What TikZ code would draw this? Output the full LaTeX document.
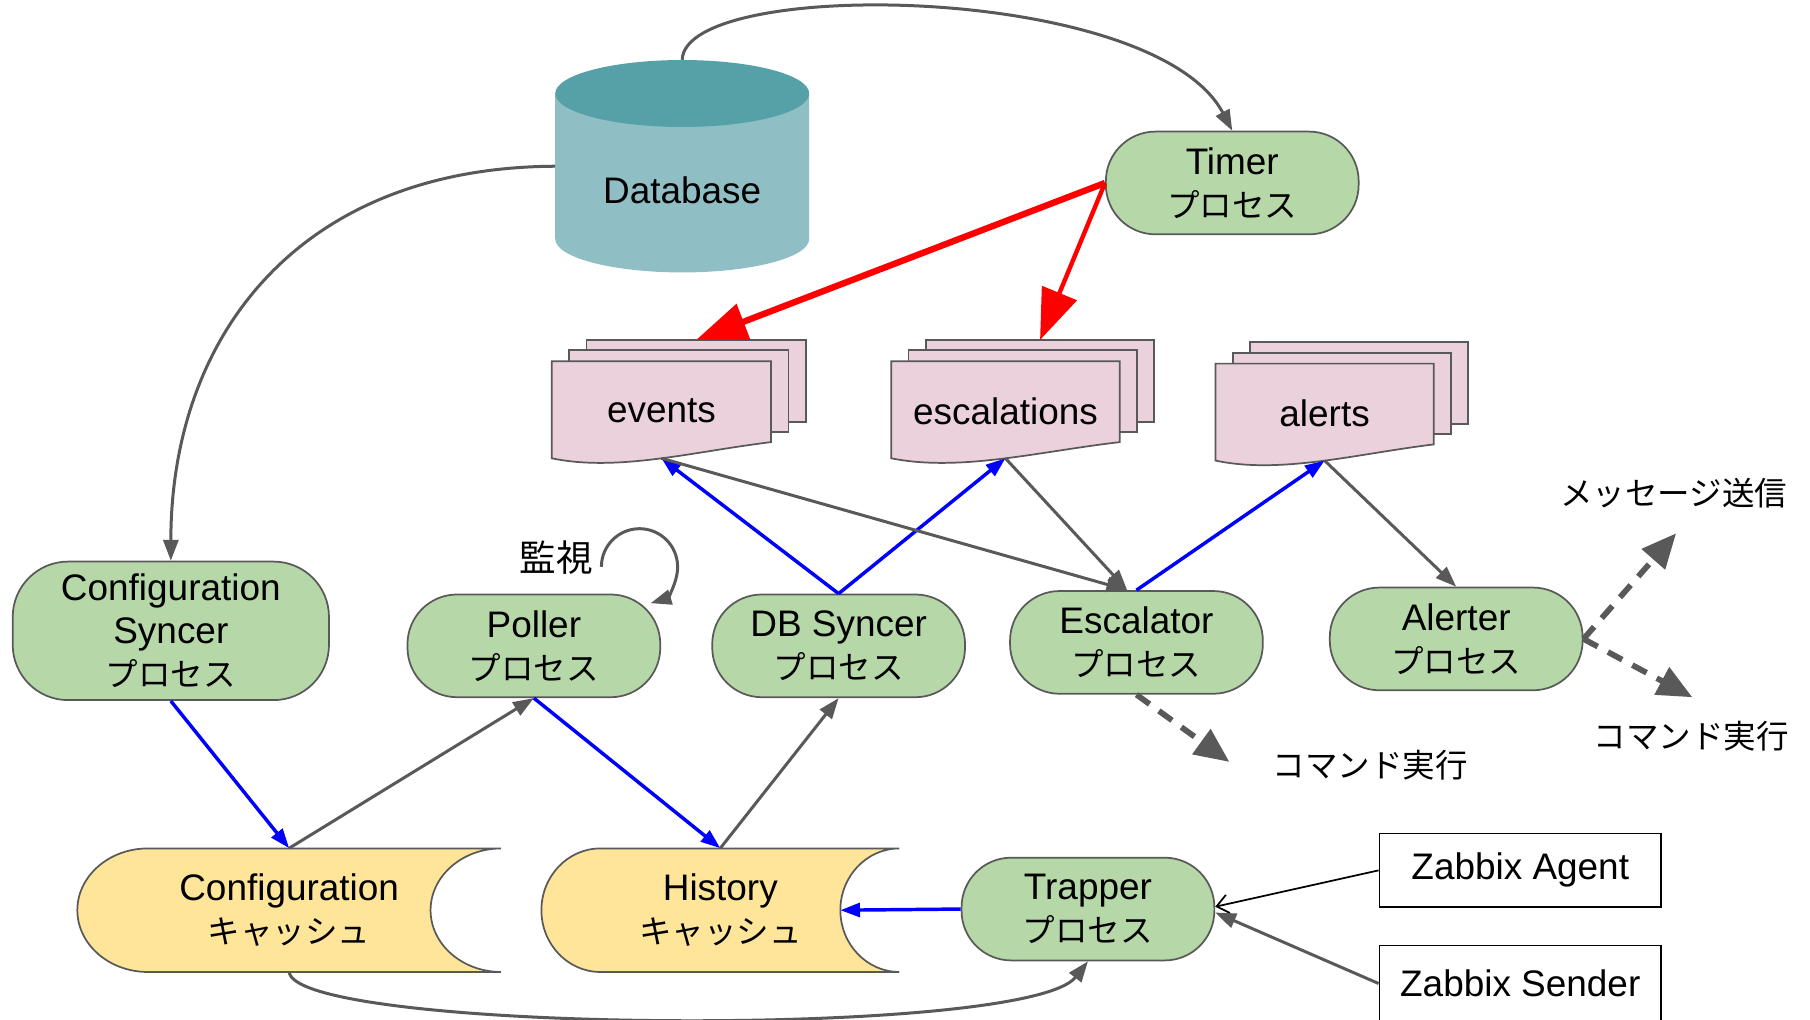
\documentclass[tikz,border=0pt]{standalone}
\usepackage{fontspec}
\setmainfont{Liberation Sans}
\newfontfamily\jp[Scale=0.88]{Noto Sans CJK JP}
\usetikzlibrary{arrows.meta}
\definecolor{linegray}{HTML}{595959}
\definecolor{procgreen}{HTML}{B6D7A8}
\definecolor{docpink}{HTML}{EAD1DC}
\definecolor{cacheyellow}{HTML}{FFE599}
\definecolor{dbbody}{HTML}{8FBEC4}
\definecolor{dbtop}{HTML}{56A0A8}
\tikzset{>={Triangle[length=18pt,width=13pt]}}
\tikzset{
  every node/.style={font=\fontsize{32}{37.5}\selectfont},
  proc/.style={draw=linegray, line width=1.5pt, fill=procgreen, rounded corners=43pt,
    minimum width=219pt, minimum height=89pt, align=center, inner sep=0pt},
  box/.style={draw=black, line width=1.5pt, fill=white, minimum width=244pt, minimum height=64pt},
  sheet/.style={draw=linegray, line width=1.5pt, fill=docpink},
  cache/.style={draw=linegray, line width=1.5pt, fill=cacheyellow},
  grayarrow/.style={->, draw=linegray, line width=2.6pt},
  bluearrow/.style={-{Triangle[length=17pt,width=12pt]}, draw=blue, line width=3pt},
  redarrow/.style={-{Triangle[length=44pt,width=32pt]}, draw=red},
  dasharrow/.style={-{Triangle[length=30pt,width=26pt]}, draw=linegray, line width=5pt,
    dash pattern=on 14pt off 10pt},
}
% stack of three sheets: name, left x, top y, width, text
\newcommand{\docstack}[5]{%
  \begin{scope}[shift={(#2,#3)}]
    \draw[sheet] (30,-18.5) rectangle ({#4+30},52.5);
    \draw[sheet] (15,-9.5) rectangle ({#4+15},61);
    \draw[sheet] (0,0) -- (#4,0) -- (#4,70)
      .. controls ({0.65*#4},78) and ({0.3*#4},96) .. (0,84) -- cycle;
    \node (#1) at ({0.5*#4},43) {#5};
    \coordinate (#1-b) at ({0.5*#4},84);
    \coordinate (#1-t) at ({0.5*#4+30},-18.5);
  \end{scope}}
% cache drum: left x, right x, end radius
\newcommand{\cacheshape}[3]{%
  \draw[cache] ({#1+#3},735) -- (#2,735)
    .. controls ({#2-0.55*#3},735) and ({#2-#3},759) .. ({#2-#3},788.5)
    .. controls ({#2-#3},818) and ({#2-0.55*#3},842) .. (#2,842)
    -- ({#1+#3},842)
    .. controls ({#1+0.45*#3},842) and (#1,818) .. (#1,788.5)
    .. controls (#1,759) and ({#1+0.45*#3},735) .. cycle;}

\begin{document}
\begin{tikzpicture}[x=1pt, y=-1pt]
\useasboundingbox (0,0) rectangle (1568,883);

% database
\fill[dbbody] (481,81) -- (481,207) .. controls (481,223) and (530.25,236) .. (591,236)
  .. controls (651.75,236) and (701,223) .. (701,207) -- (701,81) -- cycle;
\fill[dbtop] (591,81) ellipse [x radius=110, y radius=29];
\node[minimum width=220pt, minimum height=184pt] (db) at (591,144) {};
\node (dbtext) at (591,165) {Database};

% processes
\node[proc] (timer) at (1067.5,158.5) {Timer\\{\jp プロセス}};
\node[proc, minimum width=274pt, minimum height=120pt, rounded corners=48pt] (cfgsync) at (148,546.5)
  {Configuration\\Syncer\\{\jp プロセス}};
\node[proc] (poller) at (462.5,559.5) {Poller\\{\jp プロセス}};
\node[proc] (dbsync) at (726.5,559.5) {DB Syncer\\{\jp プロセス}};
\node[proc] (escalator) at (984.5,556.5) {Escalator\\{\jp プロセス}};
\node[proc] (alerter) at (1261.5,553.5) {Alerter\\{\jp プロセス}};
\node[proc] (trapper) at (942.5,787.5) {Trapper\\{\jp プロセス}};

% queues
\docstack{events}{478}{313}{190}{events}
\docstack{escalations}{772}{313}{198}{escalations}
\docstack{alerts}{1053}{315}{189}{alerts}

% caches
\cacheshape{67}{434}{61}
\node[minimum width=367pt, minimum height=107pt, align=center] (cfgcache) at (250.5,788.5)
  {Configuration\\{\jp キャッシュ}};
\cacheshape{469}{779}{51}
\node[minimum width=310pt, minimum height=107pt, align=center] (histcache) at (624,788.5)
  {History\\{\jp キャッシュ}};
\coordinate (histin) at (728,788.5);

% senders
\node[box] (agent) at (1317,754) {Zabbix Agent};
\node[box, minimum height=66pt] (sender) at (1317,852) {Zabbix Sender};

% labels
\node (watch) at (482,483) {\fontsize{36}{40}\selectfont\jp 監視};
\node (cmdesc) at (1187,663) {\jp コマンド実行};
\node (cmdalert) at (1465,638) {\jp コマンド実行};
\node (msg) at (1450,427) {\jp メッセージ送信};
\coordinate (cmdesctip) at (1065,660);
\coordinate (msgtip) at (1452,462);
\coordinate (cmdalerttip) at (1466,604);
\coordinate (loopstart) at (521,491);

% connectors
\draw[grayarrow] (db.north) .. controls (593,-20) and (1000,-15) .. (timer.north);
\draw[grayarrow] (db.west) .. controls (260,145) and (148,290) .. (cfgsync.north);
\draw[redarrow, line width=5.5pt] (timer.west) -- (events-t);
\draw[redarrow, line width=3.8pt] (timer.west) -- (escalations-t);
\draw[bluearrow] (cfgsync.south) -- (cfgcache.north);
\draw[grayarrow] (cfgcache.north) -- (poller.south);
\draw[bluearrow] (poller.south) -- (histcache.north);
\draw[grayarrow] (histcache.north) -- (dbsync.south);
\draw[bluearrow] (dbsync.north) -- (events-b);
\draw[bluearrow] (dbsync.north) -- (escalations-b);
\draw[grayarrow] (events-b) -- ([xshift=-8pt]escalator.north);
\draw[grayarrow] (escalations-b) -- ([xshift=-8pt]escalator.north);
\draw[bluearrow] (escalator.north) -- (alerts-b);
\draw[grayarrow] (alerts-b) -- (alerter.north);
\draw[grayarrow] (loopstart) arc[start angle=180, end angle=433, radius=33];
\draw[bluearrow] (trapper.west) -- (histin);
\draw[-{Straight Barb[length=10pt,width=16pt]}, line width=1.5pt] (agent.west) -- ([yshift=2pt]trapper.east);
\draw[grayarrow] (sender.west) -- ([yshift=-3pt]trapper.east);
\draw[grayarrow] (cfgcache.south) .. controls (258,895) and (890,900) .. (trapper.south);
\draw[dasharrow] (escalator.south) -- (cmdesctip);
\draw[dasharrow] (alerter.east) -- (msgtip);
\draw[dasharrow] (alerter.east) -- (cmdalerttip);
\end{tikzpicture}
\end{document}
